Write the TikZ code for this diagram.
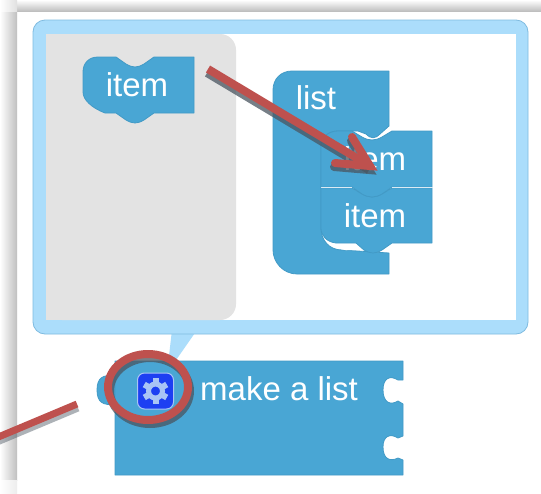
\documentclass[tikz,border=0pt]{standalone}
\usepackage{fontspec}
\setmainfont{Liberation Sans}
\usetikzlibrary{calc}
\definecolor{blk}{HTML}{49A6D4}
\definecolor{blkedge}{HTML}{429AC6}
\definecolor{bub}{HTML}{ABDDFB}
\definecolor{bubedge}{HTML}{7FBBE0}
\definecolor{flyout}{HTML}{E3E3E3}
\definecolor{anno}{HTML}{BE514E}
\definecolor{gearbg}{HTML}{1D3FF2}
\definecolor{gearfg}{HTML}{A9C4F5}
\definecolor{annosh}{HTML}{4A5560}
\tikzset{
 block/.style={fill=blk,draw=blkedge,line width=0.8pt,line join=round},
 blocktext/.style={text=white,font=\fontsize{33}{33}\selectfont,inner sep=0pt},
 annoline/.style={draw=anno,line width=8pt},
 annoshadow/.style={draw=annosh,opacity=0.75,line width=8pt},
}
\begin{document}
\begin{tikzpicture}[x=1pt,y=-1pt]
\useasboundingbox (0,0) rectangle (541,493);
\fill[white] (0,0) rectangle (541,493);
% page edge shadow
\shade[left color=white,right color=black!25] (0,11) rectangle (17,480);
\shade[top color=white,bottom color=black!25] (17,0) rectangle (541,11);
\shade[left color=white,right color=black!7] (0,480) rectangle (17,493);
\shade[left color=white,right color=black!12] (0,0) rectangle (17,11);
% callout
\coordinate (tailL) at (172,330);
\coordinate (tailR) at (197,330);
\coordinate (tailTip) at (167,373);
\fill[bub] (tailL) -- (tailR) -- (tailTip) -- cycle;
\draw[bub!60!white,line width=1pt] (tailTip) -- (155,391);
\draw[fill=bub,draw=bubedge,line width=0.8pt,rounded corners=12pt] (33,20) rectangle (528,334);
\fill[white] (46,34) rectangle (516,320);
\fill[flyout,rounded corners=16pt] (46,34) -- (236,34) -- (236,320) -- (46,320) [sharp corners] -- cycle;
\fill[flyout] (46,34) rectangle (80,320);
% flyout item
\draw[block] (98,57) -- (116,57) -- (126,64) .. controls (133,68) and (137,68) .. (144,64)
 -- (154,57) -- (194,57) -- (194,113) -- (154,113) -- (144,120) .. controls (137,124) and (133,124) .. (126,120)
 -- (116,113) -- (105,113) .. controls (92,108) and (83,100) .. (83,92) -- (83,72) .. controls (83,63) and (89,57) .. (98,57) -- cycle;
\node[blocktext] (flyitem) at (137,85) {item};
% list block
\draw[block] (292,71) -- (389,71) -- (389,126) -- (380,134) .. controls (375,139) and (371,139) .. (366,134)
 -- (358,131) -- (338,131) .. controls (329,131) and (321,137) .. (321,146) -- (321,228)
 .. controls (321,240) and (329,250) .. (342,250) -- (389,253) -- (389,274) -- (297,274)
 .. controls (283,274) and (273,262) .. (273,250) -- (273,90) .. controls (273,79) and (281,71) .. (292,71) -- cycle;
\fill[white] (322,222) .. controls (323,238) and (332,248) .. (345,250) -- (368,250) -- (345,244) -- cycle;
\node[blocktext] (listlab) at (316,98) {list};
% item 2
\draw[block] (321,188) -- (352,188) -- (362,194) .. controls (369,198) and (375,198) .. (382,194) -- (392,188)
 -- (432,188) -- (432,243) -- (392,243) -- (382,250) .. controls (375,254) and (371,254) .. (364,250) -- (356,243)
 -- (336,243) .. controls (327,242) and (321,236) .. (321,228) -- cycle;
\node[blocktext] (item2) at (375,216) {item};
% item 1
\draw[block] (321,187) -- (321,146) .. controls (321,137) and (329,131) .. (338,131) -- (352,131) -- (362,137)
 .. controls (369,141) and (375,141) .. (382,137) -- (392,131) -- (432,131) -- (432,187) -- (392,187)
 -- (382,194) .. controls (375,198) and (369,198) .. (362,194) -- (352,187) -- cycle;
\node[blocktext] (item1) at (375,159) {item};
\draw[white,opacity=.7,line width=0.8pt] (321,187.5) -- (352,187.5) (392,187.5) -- (432,187.5);
% make a list block
\draw[block] (115,376) .. controls (103,374) and (97,378) .. (97,390) .. controls (97,402) and (103,406) .. (115,404) -- cycle;
\draw[block] (115,361) -- (403,361) -- (403,380) -- (398,380) .. controls (390,375) and (383,378) .. (383,390)
 .. controls (383,402) and (390,406) .. (398,401) -- (403,404) -- (403,436) -- (398,438)
 .. controls (390,433) and (383,436) .. (383,447) .. controls (383,459) and (390,462) .. (398,458) -- (403,460)
 -- (403,475) -- (115,475) -- cycle;
\node[blocktext,anchor=base west] (mk) at (200,400) {make a list};
% gear icon
\node[fill=gearbg,draw=gearfg,line width=1pt,rounded corners=7pt,minimum size=36pt,inner sep=0pt] (gearbox) at (155.5,391) {};
\foreach \a in {0,60,...,300}{
 \fill[gearfg,rotate around={\a:(gearbox.center)}] ($(gearbox.center)+(-3,-13)$) rectangle ($(gearbox.center)+(3,-7)$);
}
\draw[gearfg,line width=5pt] (gearbox.center) circle (7pt);
% annotations: shadows
\coordinate (lnA) at (-4,438);
\coordinate (lnB) at (77,404);
\coordinate (arA) at (208,69);
\coordinate (arB) at (370,166);
\coordinate (brA) at (335,163);
\coordinate (brB) at (352,137);
\coordinate (elC) at (148,387);
\draw[annoshadow,opacity=.45,line width=7pt] ($(lnA)+(1,4)$) -- ($(lnB)+(1,4)$);
\draw[annoshadow] ($(arA)+(-1,4)$) -- ($(arB)+(-1,4)$);
\draw[annoshadow,line cap=round] ($(brA)+(-1,4)$) -- ($(arB)+(-1,4)$) -- ($(brB)+(-1,4)$);
\draw[annoshadow,line width=8pt] ($(elC)+(2,4)$) ellipse (40pt and 33pt);
% annotations
\draw[annoline,line width=7pt] (lnA) -- (lnB);
\draw[annoline] (arA) -- (arB);
\draw[annoline,line cap=round] (brA) -- (arB) -- (brB);
\draw[annoline] (elC) ellipse (40pt and 33pt);
\end{tikzpicture}
\end{document}
